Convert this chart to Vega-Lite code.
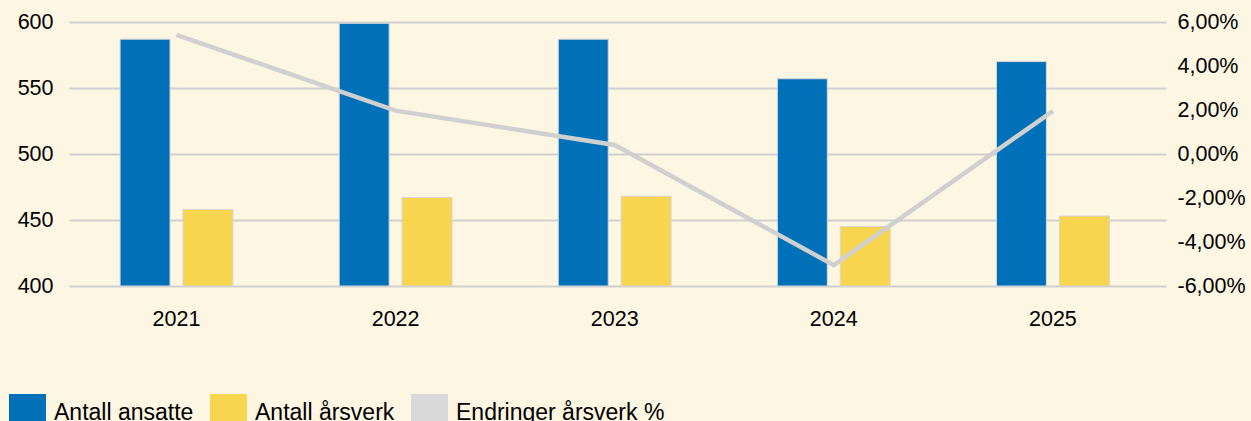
{
  "$schema": "https://vega.github.io/schema/vega-lite/v6.json",
  "width": 1097,
  "height": 264,
  "autosize": {"type": "none"},
  "padding": {"left": 69, "top": 22, "right": 85, "bottom": 135},
  "background": "#fdf6e2",
  "config": {
    "view": {"stroke": null},
    "font": "Liberation Sans",
    "locale": {"number": {"decimal": ",", "thousands": " ", "grouping": [3], "currency": ["", " kr"], "minus": "-"}},
    "axis": {"labelFont": "Liberation Sans", "labelColor": "#000000", "labelFontSize": 21.5, "ticks": false, "domain": false, "title": null}
  },
  "datasets": {
    "bars": [
      {"year": "2021", "serie": "Antall ansatte", "value": 587},
      {"year": "2021", "serie": "Antall årsverk", "value": 458},
      {"year": "2022", "serie": "Antall ansatte", "value": 599},
      {"year": "2022", "serie": "Antall årsverk", "value": 467},
      {"year": "2023", "serie": "Antall ansatte", "value": 587},
      {"year": "2023", "serie": "Antall årsverk", "value": 468},
      {"year": "2024", "serie": "Antall ansatte", "value": 557},
      {"year": "2024", "serie": "Antall årsverk", "value": 445},
      {"year": "2025", "serie": "Antall ansatte", "value": 570},
      {"year": "2025", "serie": "Antall årsverk", "value": 453}
    ],
    "line": [
      {"year": "2021", "endring": 0.0542},
      {"year": "2022", "endring": 0.0197},
      {"year": "2023", "endring": 0.0041},
      {"year": "2024", "endring": -0.0505},
      {"year": "2025", "endring": 0.0195}
    ]
  },
  "encoding": {
    "x": {
      "field": "year", "type": "nominal",
      "scale": {"paddingInner": 0.485, "paddingOuter": 0.246, "align": 0.474},
      "axis": {"labelAngle": 0, "labelPadding": 22, "grid": false}
    }
  },
  "layer": [
    {
      "data": {"name": "bars"},
      "mark": {"type": "bar", "stroke": "#d6d6d6", "strokeWidth": 1},
      "encoding": {
        "xOffset": {"field": "serie", "type": "nominal", "scale": {"paddingInner": 0.206, "paddingOuter": 0}},
        "y": {
          "field": "value", "type": "quantitative",
          "scale": {"domain": [400, 600], "zero": false, "nice": false},
          "axis": {"values": [400, 450, 500, 550, 600], "grid": true, "gridColor": "#d0d0d0", "gridWidth": 2, "labelPadding": 16}
        },
        "y2": {"datum": 400},
        "color": {
          "field": "serie", "type": "nominal",
          "scale": {"domain": ["Antall ansatte", "Antall årsverk", "Endringer årsverk %"], "range": ["#0071b9", "#f8d54f", "#d9d9d9"]},
          "legend": {
            "title": null, "orient": "none", "legendX": -60, "legendY": 372, "direction": "horizontal",
            "symbolType": "square", "symbolSize": 1369, "symbolStrokeWidth": 0, "symbolOpacity": 1,
            "labelFont": "Liberation Sans", "labelFontSize": 23, "labelColor": "#000000", "labelOffset": 8,
            "columnPadding": 16, "labelLimit": 400,
            "encode": {"labels": {"update": {"dy": {"value": 6}}}}
          }
        }
      }
    },
    {
      "data": {"name": "line"},
      "mark": {"type": "line", "color": "#d0d0d0", "strokeWidth": 4.5},
      "encoding": {
        "y": {
          "field": "endring", "type": "quantitative",
          "scale": {"domain": [-0.06, 0.06], "nice": false, "zero": false},
          "axis": {"orient": "right", "format": ".2%", "values": [-0.06, -0.04, -0.02, 0, 0.02, 0.04, 0.06], "grid": false, "labelPadding": 11}
        }
      }
    }
  ],
  "resolve": {"scale": {"y": "independent"}}
}
